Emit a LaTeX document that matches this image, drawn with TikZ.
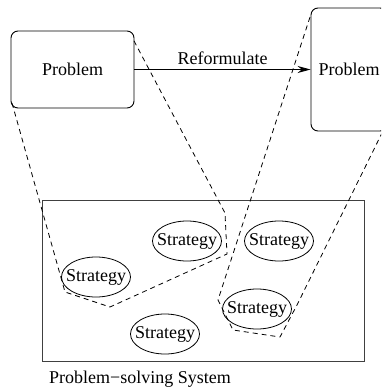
\documentclass[tikz,border=0pt]{standalone}
\usepackage{fontspec}
\setmainfont{Liberation Serif}
\usetikzlibrary{shapes.geometric,arrows.meta}
\tikzset{
  probbox/.style={draw, rounded corners=7pt, line width=0.9pt, inner sep=0pt},
  stratnode/.style={draw, ellipse, line width=0.8pt, inner xsep=-10pt, inner ysep=0pt, minimum width=69pt, minimum height=40pt},
  funnel/.style={line width=0.8pt, dash pattern=on 5pt off 4pt}
}
\newcommand{\strat}[3]{ \node[stratnode] (#1) at ( #2 , #3 ) {Strategy};}
\begin{document}
\begin{tikzpicture}[x=1pt,y=-1pt,font=\fontsize{18}{21}\selectfont]
        \useasboundingbox (0,0) rectangle (381,389);
        \clip (0,0) rectangle (381,389);

        % problems
        \node[probbox, minimum width=123pt, minimum height=77pt] (lp) at (72.5,69.5) {Problem};
        \node[probbox, minimum width=76pt, minimum height=123pt] (rp) at (349,69.5) {Problem};
        \draw[line width=0.9pt, -{Stealth[length=13pt,width=7pt]}] (lp) -- node[above=1pt] (rf) {Reformulate} (rp);

        % system
        \node[draw, line width=0.9pt, draw=black!75, minimum width=322pt, minimum height=161pt] (ps) at (203,280.5) {};
        \node[anchor=west, inner sep=0pt] (sys) at (49,379) {Problem−solving System};

        % strategies
        \strat{s1}{187}{241}
        \strat{s2}{279}{241}
        \strat{s3}{96}{277}
        \strat{s4}{165}{334}
        \strat{s5}{257}{309}

        % funnels
        \draw[funnel] (12,103) -- (65,292) -- (110,307) -- (227,254) -- (225,213) -- (133,39);
        \draw[funnel] (310,17) -- (218,300) -- (233,330) -- (280,337) -- (297,305) -- (382,133);
    \end{tikzpicture}
\end{document}
